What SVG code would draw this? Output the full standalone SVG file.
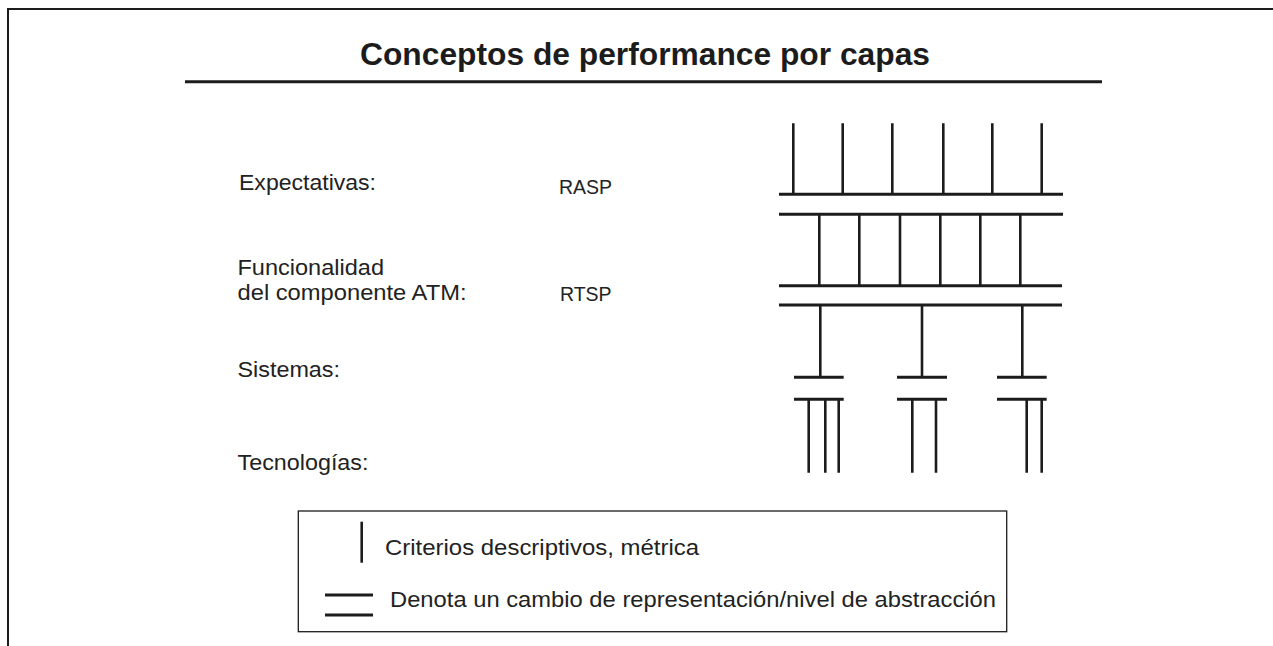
<svg xmlns="http://www.w3.org/2000/svg" width="1273" height="646" viewBox="0 0 1273 646">
<style>
.ln{stroke:#1c1c1c;stroke-width:3;fill:none;stroke-linecap:butt}
.vl{stroke:#1c1c1c;stroke-width:2.6;fill:none}
.t{font-family:"Liberation Sans",Arial,sans-serif;font-size:22px;fill:#222}
.s{font-size:21px}
.title{font-family:"Liberation Sans",Arial,sans-serif;font-size:31px;font-weight:bold;fill:#1c1c1c}
</style>
<rect width="1273" height="646" fill="#fff"/>
<g id="frame">
<path d="M8,646 V9 H1273" stroke="#1c1c1c" stroke-width="2" fill="none"/>
</g>
<g id="title">
<text class="title" x="360" y="65" textLength="570" lengthAdjust="spacingAndGlyphs">Conceptos de performance por capas</text>
<line class="ln" x1="185" y1="81.7" x2="1102" y2="81.7" stroke-width="3.3"/>
</g>
<g id="labels">
<text class="t" x="239" y="189.5" textLength="137" lengthAdjust="spacingAndGlyphs">Expectativas:</text>
<text class="t s" x="559" y="194" textLength="53" lengthAdjust="spacingAndGlyphs">RASP</text>
<text class="t" x="237.5" y="275" textLength="146.5" lengthAdjust="spacingAndGlyphs">Funcionalidad</text>
<text class="t" x="237.5" y="300" textLength="229" lengthAdjust="spacingAndGlyphs">del componente ATM:</text>
<text class="t s" x="560" y="301" textLength="51.5" lengthAdjust="spacingAndGlyphs">RTSP</text>
<text class="t" x="237.5" y="377" textLength="102.5" lengthAdjust="spacingAndGlyphs">Sistemas:</text>
<text class="t" x="237.5" y="470" textLength="131" lengthAdjust="spacingAndGlyphs">Tecnologías:</text>
</g>
<g id="connectors">
<g id="expectativas-layer">
<path class="vl" d="M793.3,123.3V194 M842.7,123.3V194 M892.3,123.3V194 M943.3,123.3V194 M992.3,123.3V194 M1041.7,123.3V194"/>
<line class="ln" x1="779" y1="194.3" x2="1063" y2="194.3"/>
</g>
<g id="funcionalidad-layer">
<line class="ln" x1="779" y1="214.3" x2="1063" y2="214.3"/>
<path class="vl" d="M819.3,214V285.5 M859.3,214V285.5 M900,214V285.5 M940.3,214V285.5 M980.3,214V285.5 M1020.3,214V285.5"/>
<line class="ln" x1="779" y1="285.7" x2="1062" y2="285.7"/>
</g>
<g id="sistemas-layer">
<line class="ln" x1="779" y1="305" x2="1062" y2="305"/>
<path class="vl" d="M820.3,305V377 M922,305V377 M1022.3,305V377"/>
<path class="ln" d="M794,377.3H843.7 M897,377.3H947 M997,377.3H1046.7"/>
</g>
<g id="tecnologias-layer">
<path class="ln" d="M794,399.3H843.7 M897,399.3H947 M997,399.3H1046.7"/>
<path class="vl" d="M808.7,399.3V472.7 M825.3,399.3V472.7 M838.7,399.3V472.7 M912.3,399.3V472.7 M936,399.3V472.7 M1026.7,399.3V472.7 M1041.7,399.3V472.7"/>
</g>
</g>
<g id="legend">
<rect x="298.3" y="511" width="708.4" height="120.7" fill="none" stroke="#1c1c1c" stroke-width="1.3"/>
<line class="vl" x1="361.7" y1="521.7" x2="361.7" y2="562.7"/>
<text class="t" x="385" y="555" textLength="314" lengthAdjust="spacingAndGlyphs">Criterios descriptivos, métrica</text>
<path class="ln" d="M325,595H373 M325,615H373" stroke-width="2.7"/>
<text class="t" x="390" y="606.7" textLength="606" lengthAdjust="spacingAndGlyphs">Denota un cambio de representación/nivel de abstracción</text>
</g>
</svg>
